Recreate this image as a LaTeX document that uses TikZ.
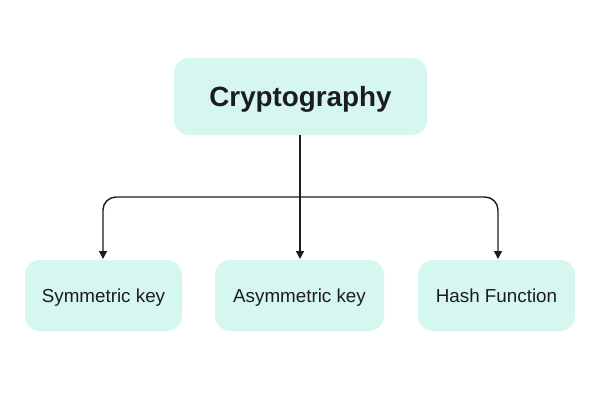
\documentclass[tikz,border=0pt]{standalone}
\usepackage{fontspec}
\setmainfont{Liberation Sans}
\usetikzlibrary{arrows.meta}
\definecolor{mint}{RGB}{213,247,239}
\definecolor{ink}{RGB}{28,28,30}
\begin{document}
\begin{tikzpicture}[x=1pt,y=-1pt,
  box/.style={fill=mint,draw=none,rounded corners=15pt,inner sep=0pt,text=ink,
    text height=13.5pt,text depth=0pt,
    font=\fontsize{18.8}{21}\selectfont},
  title/.style={box,text height=20pt,font=\bfseries\fontsize{27.8}{31}\selectfont},
  arr/.style={draw=ink,line width=1.4pt,-{Triangle[width=8pt,length=8pt]},rounded corners=13pt}]
\useasboundingbox (0,0) rectangle (600,400);
\fill[white] (0,0) rectangle (600,400);
\node[title,minimum width=253pt,minimum height=77pt] (top) at (300.5,96.5) {Cryptography};
\node[box,minimum width=157pt,minimum height=71pt] (s1) at (103.5,295.5) {Symmetric key};
\node[box,minimum width=169pt,minimum height=71pt] (s2) at (299.5,295.5) {Asymmetric key};
\node[box,minimum width=157pt,minimum height=71pt] (s3) at (496.5,295.5) {Hash Function};
\coordinate (j) at (300,197);
\coordinate (e1) at (103,259);
\coordinate (e2) at (300,259);
\coordinate (e3) at (498,259);
\draw[arr] (top.south -| j) -- (e2);
\draw[arr] (j) -| (e1);
\draw[arr] (j) -| (e3);
\end{tikzpicture}
\end{document}
